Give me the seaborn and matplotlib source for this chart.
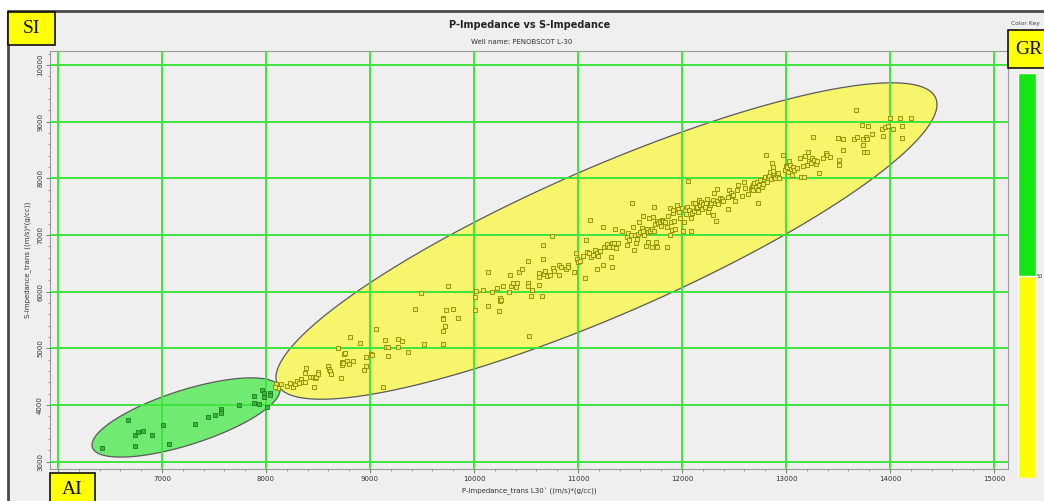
import numpy as np
import pandas as pd
import matplotlib
matplotlib.use("Agg")
import matplotlib.pyplot as plt
import seaborn as sns
from matplotlib.patches import Rectangle
from matplotlib.lines import Line2D
from matplotlib.ticker import MultipleLocator

# Green cluster (low impedance)
green_p = [6426, 6676, 6738, 6766, 6814, 6738, 6904, 7012, 7070, 7314, 7439, 7507, 7570,
           7570, 7570, 7740, 7882, 7882, 7933, 7959, 7981, 7981, 8041, 8041, 8012]
green_s = [3239, 3733, 3473, 3531, 3544, 3279, 3473, 3650, 3309, 3662, 3791, 3832, 3937,
           3897, 3856, 4008, 4156, 4043, 4020, 4262, 4209, 4143, 4220, 4179, 3973]

# Yellow cluster
yellow_p = [8096, 8112, 8086, 10529,
            8145, 8205, 8231, 8257, 8279, 8295, 8321, 8334, 8353, 8375,
            8372, 8385, 8423, 8456, 8472, 8481, 8465, 8497, 8504, 8593,
            8606, 8616, 8622, 8696, 8722, 8731, 8734, 8738, 8754, 8763,
            8776, 8802, 8834, 8808, 8907, 8939, 8959, 8962, 9007, 9020,
            9055, 9129, 9145, 9154, 9177, 9177, 9266, 9266, 9308, 9366,
            9433, 9494, 9520, 9699, 9699, 9705, 9699, 9718, 9728, 9747,
            9795, 9846, 10007, 10007, 10019, 10087, 10135, 10135, 10173, 10222,
            10250, 10241, 10254, 10263, 10276, 10340, 10346, 10353, 10378, 10404,
            10417, 10430,
            10458, 10516, 10522, 10516, 10548, 10561, 10628, 10628, 10628, 10651,
            10660, 10667, 10676, 10686, 10699, 10731, 10753, 10756, 10769, 10814,
            10820, 10840, 10881, 10901, 10907, 10962, 10981, 10987, 11003, 11019,
            11045, 11070, 11077, 11090, 11109, 11115, 11122, 11141, 11163, 11186,
            11195, 11179, 11212, 11237, 11244, 11253, 11276, 11282, 11298, 11317,
            11324, 11330, 11340, 11349, 11356, 11365, 11388, 11420, 11468, 11474,
            11484, 11494, 11506, 11516, 11526, 11538, 11548, 11554, 11564, 11574,
            11590, 11596, 11612, 11622, 11628, 11635, 11654, 11660, 11670, 11676,
            11686, 11692, 11708, 11711, 11724, 11731, 11731, 11740, 11750, 11756,
            11763, 11772, 11788, 11798, 11804, 11820, 11836, 11852, 11859, 11869,
            11885, 11885, 11891, 11901, 11910, 11917, 11923, 11933, 11949, 11958,
            11974, 11981, 11997, 12006, 12019, 12029, 12038, 12051, 12061, 12070,
            12083, 12086, 12093, 12102, 12115, 12125, 12134, 12147, 12157, 12167,
            12173, 12183, 12192, 12205, 12218, 12231, 12237, 12247, 12256, 12269,
            12282, 12295, 12301, 12308, 12317, 12327, 12333, 12340, 12349, 12365,
            12381, 12391, 12439, 12445, 12455, 12468, 12478, 12494, 12513, 12526,
            12538,
            12573, 12596, 12605, 12637, 12660, 12669, 12679, 12686, 12695, 12708,
            12718, 12727, 12734, 12743, 12750, 12766, 12775, 12788, 12798, 12807,
            12814, 12830, 12839, 12846, 12852, 12862, 12871, 12878, 12884, 12894,
            12910, 12926, 12935, 12974, 12990, 12999, 13012, 13022, 13032, 13038,
            13044, 13054, 13064, 13077, 13102, 13134, 13141, 13160, 13173, 13182,
            13198, 13214, 13224, 13237, 13246, 13256, 13269, 13288, 13294, 13314,
            13352, 13384, 13397, 13423, 13503, 13512, 13512, 13544, 13544, 13653,
            13669, 13679, 13727, 13737, 13743, 13750, 13766, 13775, 13782, 13791,
            13823, 13919, 13929, 13951, 13984, 14000, 14025, 14093, 14112, 14112,
            14198]
yellow_s = [4368, 4297, 4325, 5220,
            4378, 4343, 4384, 4325, 4372, 4425, 4384, 4466, 4408, 4414,
            4572, 4655, 4502, 4502, 4472, 4496, 4320, 4590, 4543, 4684,
            4631, 4596, 4555, 5008, 4484, 4708, 4766, 4743, 4896, 4919,
            4784, 4719, 4784, 5207, 5102, 4620, 4855, 4696, 4908, 4878,
            5349, 4320, 5149, 5019, 5019, 4872, 5161, 5031, 5131, 4943,
            5696, 5972, 5072, 5543, 5513, 5084, 5313, 5402, 5672, 6102,
            5696, 5537, 5902, 5678, 6013, 6037, 6349, 5755, 5996, 6060,
            5884, 5666, 5843, 5849, 6107, 5990, 6301, 6107, 6148, 6089,
            6148, 6342,
            6408, 6543, 6161, 6102, 5926, 6031, 6337, 6255, 6120, 5926,
            6584, 6825, 6314, 6367, 6278, 6296, 6990, 6420, 6372, 6296,
            6472, 6431, 6396, 6472, 6431, 6355, 6690, 6572, 6525, 6543,
            6631, 6237, 6913, 6708, 6678, 7266, 6619, 6643, 6737, 6690,
            6631, 6396, 6719, 6472, 7137, 6796, 6808, 6843, 6784, 6619,
            6855, 6443, 6796, 6855, 7102, 6766, 6855, 7078, 6825, 6960,
            7031, 6913, 7002, 7560, 7149, 6737, 7002, 6866, 6925, 7019,
            7237, 7049, 7119, 7337, 7078, 7002, 6808, 7102, 7055, 6884,
            7296, 7072, 6796, 7113, 7325, 7501, 7072, 7196, 6884, 6796,
            7249, 7219, 7237, 7160, 7266, 7255, 7237, 7137, 6784, 7337,
            7472, 7002, 7237, 7090, 7384, 7443, 7249, 7102, 7531, 7460,
            7413, 7296, 7472, 7078, 7237, 7443, 7372, 7490, 7954, 7443,
            7296, 7078, 7396, 7572, 7431, 7560, 7472, 7501, 7413, 7619,
            7531, 7590, 7454, 7548, 7501, 7560, 7631, 7413, 7472, 7531,
            7560, 7354, 7619, 7748, 7560, 7249, 7807, 7607, 7548, 7648,
            7631, 7607, 7460, 7678, 7795, 7737, 7690, 7707, 7601, 7795,
            7884,
            7689, 7942, 7824, 7719, 7807, 7854, 7883, 7795, 7913, 7842,
            7942, 7572, 7795, 7883, 7971, 7854, 7901, 7983, 8018, 8412,
            7942, 8001, 8042, 8118, 7983, 8277, 8136, 8207, 8030, 8001,
            8060, 8089, 8001, 8412, 8148, 8218, 8195, 8118, 8312, 8236,
            8160, 8060, 8195, 8148, 8177, 8354, 8018, 8218, 8018, 8395,
            8236, 8471, 8312, 8277, 8354, 8736, 8324, 8254, 8312, 8089,
            8354, 8454, 8412, 8383, 8706, 8324, 8236, 8689, 8501, 8689,
            9206, 8736, 8942, 8689, 8589, 8471, 8736, 8689, 8471, 8924,
            8783, 8865, 8748, 8912, 8924, 9059, 8865, 9059, 8924, 8712,
            9059]

# ellipse polygons: centre, two conjugate semi-diameters (data units)
green_zone = [(7231, 3782), (904, 485), (0, -503)]
yellow_zone = [(11274, 6895), (3178, 2408), (0, -1411)]

# colour key (GR)
gr_edges = [0, 50, 100]
gr_colors = ["#ffff00", "#14e614"]

df = pd.concat([
    pd.DataFrame({"P": green_p, "S": green_s, "zone": "green"}),
    pd.DataFrame({"P": yellow_p, "S": yellow_s, "zone": "yellow"}),
])

sns.set_theme(style="white")
plt.rcParams["font.family"] = ["DejaVu Sans"]

W, H = 1044, 501
fig = plt.figure(figsize=(W / 100, H / 100), dpi=100)
fig.patch.set_facecolor("white")

# grey panel with dark frame at top/left
fig.add_artist(Rectangle((8 / W, 0), 1, 1 - 11 / H, transform=fig.transFigure,
                         facecolor="#efefef", edgecolor="none", zorder=-5))
fig.add_artist(Line2D([8 / W, 1], [1 - 11 / H, 1 - 11 / H], transform=fig.transFigure,
                      color="#4a4a4a", lw=2, zorder=-4))
fig.add_artist(Line2D([8 / W, 8 / W], [0, 1 - 11 / H], transform=fig.transFigure,
                      color="#4a4a4a", lw=2, zorder=-4))

ax = fig.add_axes([50 / W, 1 - 469 / H, (1008 - 50) / W, (469 - 51) / H])
ax.set_facecolor("#efefef")


def draw_zone(ax, zone, face):
    (cx, cy), u, v = zone
    t = np.linspace(0, 2 * np.pi, 300)
    x = cx + np.cos(t) * u[0] + np.sin(t) * v[0]
    y = cy + np.cos(t) * u[1] + np.sin(t) * v[1]
    ax.fill(x, y, facecolor=face, edgecolor="#5a5a5a", lw=0.9, zorder=0.5)


draw_zone(ax, green_zone, "#70ea70")
draw_zone(ax, yellow_zone, "#f6f56c")

sns.scatterplot(data=df[df.zone == "green"], x="P", y="S", marker="s", s=12,
                color="#3cb83c", edgecolor="#1f7a1f", linewidth=0.6, ax=ax, zorder=3, legend=False)
sns.scatterplot(data=df[df.zone == "yellow"], x="P", y="S", marker="s", s=12,
                color="#ecec5a", edgecolor="#8a8a00", linewidth=0.6, ax=ax, zorder=3, legend=False)

ax.set_xlim(5923, 15135)
ax.set_ylim(2873, 10247)
ax.set_xticks(range(6000, 16000, 1000))
ax.set_yticks(range(3000, 11000, 1000))
ax.xaxis.set_minor_locator(MultipleLocator(200))
ax.yaxis.set_minor_locator(MultipleLocator(200))
ax.set_axisbelow(False)
ax.grid(True, which="major", color="#3fe33f", lw=1.4, zorder=1)
ax.tick_params(which="major", direction="out", length=3, width=0.6, color="#666666",
               labelsize=5, labelcolor="#333333", pad=2, bottom=True, left=True)
ax.tick_params(which="minor", direction="out", length=1.6, width=0.5, color="#777777",
               bottom=True, left=True)
for lab in ax.get_yticklabels():
    lab.set_rotation(90)
    lab.set_va("center")
for sp in ax.spines.values():
    sp.set_color("#9a9a9a")
    sp.set_linewidth(0.8)

ax.set_xlabel("P-Impedance_trans L30` ((m/s)*(g/cc))", fontsize=5, color="#333333", labelpad=4)
ax.set_ylabel("S-Impedance_trans ((m/s)*(g/cc))", fontsize=5, color="#333333", labelpad=4)

fig.text(530 / W, 1 - 25 / H, "P-Impedance vs S-Impedance", ha="center", va="center",
         fontsize=7, fontweight="bold", color="#222222")
fig.text(522 / W, 1 - 42 / H, "Well name: PENOBSCOT L-30", ha="center", va="center",
         fontsize=5, color="#333333")

# colour key
cax = fig.add_axes([1018 / W, 1 - 478 / H, 18 / W, (478 - 73) / H])
cax.bar([0, 0], np.diff(gr_edges), bottom=gr_edges[:-1], width=1, color=gr_colors)
cax.set_xlim(-0.5, 0.5)
cax.set_ylim(gr_edges[0], gr_edges[-1])
cax.axis("off")
fig.text(1037 / W, 1 - 277 / H, "50", fontsize=3.6, color="#333333", va="center", ha="left")
fig.text(1011 / W, 1 - 23 / H, "Color Key", fontsize=4.3, color="#444444", va="center", ha="left")

# yellow label boxes
def label_box(x0, y0, x1, y1, txt):
    fig.add_artist(Rectangle((x0 / W, 1 - y1 / H), (x1 - x0) / W, (y1 - y0) / H,
                             transform=fig.transFigure, facecolor="#ffff00",
                             edgecolor="#111111", lw=1.2, zorder=5))
    fig.text((x0 + x1) / 2 / W, 1 - (y0 + y1) / 2 / H, txt, ha="center", va="center",
             fontsize=14, family="Liberation Serif", color="#111111", zorder=6)


label_box(8, 12, 55, 45, "SI")
label_box(50, 473, 95, 506, "AI")
label_box(1008, 30, 1050, 68, "GR")

fig.savefig("out.png", dpi=100)
